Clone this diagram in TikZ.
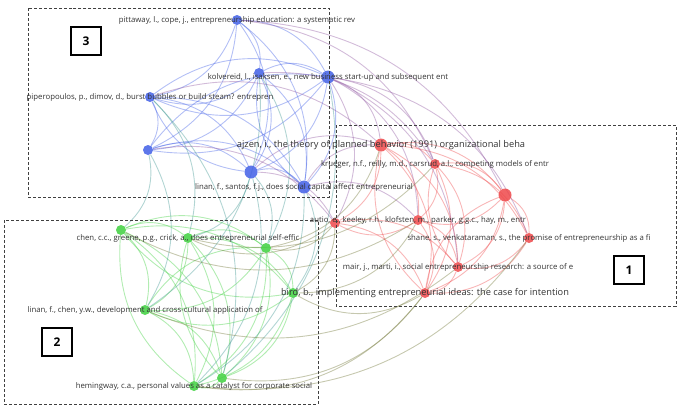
\documentclass[tikz,border=0pt]{standalone}
\usepackage{fontspec}
\setmainfont{Open Sans}
\usetikzlibrary{backgrounds}
\definecolor{azul}{RGB}{65,95,230}
\definecolor{rojo}{RGB}{238,72,74}
\definecolor{verde}{RGB}{62,208,62}
\tikzset{
    nodo/.style={circle,draw=none,inner sep=0pt,minimum size=10bp,fill opacity=0.85},
    nodog/.style={nodo,minimum size=13bp},
    etiq/.style={inner sep=0pt,text=black!80,font=\fontsize{7.8}{9}\selectfont},
    grande/.style={font=\fontsize{9.3}{11}\selectfont},
    enlace/.style={line width=0.9pt,draw opacity=0.4,bend left=30},
    caja/.style={draw=black!75,densely dashed,line width=0.6pt},
    marca/.style={draw,fill=white,line width=1.1pt,minimum width=30bp,minimum height=28bp,inner sep=0pt,font=\bfseries\fontsize{12}{14}\selectfont},
}
\begin{document}
\begin{tikzpicture}[x=1bp,y=-1bp]
    \useasboundingbox (0,0) rectangle (679,409);
    % grupo 3
    \node [nodo,fill=azul] (b1) at (237,20) {};
    \node [nodo,fill=azul] (b2) at (259,73) {};
    \node [nodog,fill=azul] (b3) at (328,77) {};
    \node [nodo,fill=azul] (b4) at (150,97) {};
    \node [nodo,fill=azul] (b5) at (148,150) {};
    \node [nodog,fill=azul] (b6) at (251,172) {};
    \node [nodog,fill=azul] (b7) at (304,187) {};
    % grupo 1
    \node [nodog,fill=rojo] (r1) at (381,145) {};
    \node [nodo,fill=rojo] (r2) at (435,164) {};
    \node [nodog,fill=rojo] (r3) at (505,195) {};
    \node [nodo,fill=rojo] (r4) at (418,220) {};
    \node [nodo,fill=rojo] (r5) at (335,223) {};
    \node [nodo,fill=rojo] (r6) at (529,238) {};
    \node [nodo,fill=rojo] (r7) at (458,267) {};
    \node [nodo,fill=rojo] (r8) at (425,293) {};
    % grupo 2
    \node [nodo,fill=verde] (g1) at (121,230) {};
    \node [nodo,fill=verde] (g2) at (188,238) {};
    \node [nodo,fill=verde] (g3) at (266,248) {};
    \node [nodo,fill=verde] (g4) at (293,293) {};
    \node [nodo,fill=verde] (g5) at (145,310) {};
    \node [nodo,fill=verde] (g6) at (222,378) {};
    \node [nodo,fill=verde] (g7) at (194,386) {};

    \begin{scope}[on background layer]
    \foreach \a/\b in {b1/b2,b1/b3,b1/b4,b1/b5,b1/b6,b1/b7,b2/b3,b2/b4,b2/b5,b2/b6,b2/b7,
        b3/b4,b3/b5,b3/b6,b3/b7,b4/b5,b4/b6,b4/b7,b5/b6,b5/b7,b6/b7,b4/b3,b5/b3,b6/b4,b7/b2}
        \draw [enlace,azul] (\a) to (\b);
    \foreach \a/\b in {r1/r2,r1/r3,r1/r4,r1/r5,r1/r6,r1/r7,r1/r8,r2/r3,r2/r4,r2/r6,r2/r7,r2/r8,
        r3/r4,r3/r6,r3/r7,r3/r8,r4/r5,r4/r7,r4/r8,r5/r7,r5/r8,r6/r7,r6/r8,r7/r8,r8/r3,r8/r1,r7/r2}
        \draw [enlace,rojo] (\a) to (\b);
    \foreach \a/\b in {g1/g2,g1/g3,g1/g4,g1/g5,g1/g6,g1/g7,g2/g3,g2/g4,g2/g5,g2/g6,g2/g7,
        g3/g4,g3/g5,g3/g6,g3/g7,g4/g5,g4/g6,g4/g7,g5/g6,g5/g7,g6/g7,g7/g1,g6/g2,g4/g1,g5/g3}
        \draw [enlace,verde] (\a) to (\b);
    \foreach \a/\b in {b3/r1,b3/r2,b3/r4,b3/r5,b3/r7,b7/r1,b7/r4,b6/r1,b2/r2,b1/r3,b3/r6,b6/r5,b5/r5,b1/r2,b4/r1}
        \draw [enlace,azul!55!rojo] (\a) to (\b);
    \foreach \a/\b in {b5/g1,b5/g5,b4/g2,b6/g2,b6/g3,b7/g4,b2/g5,b3/g6,b6/g7,b4/g6,b7/g7,b2/g3}
        \draw [enlace,azul!50!verde] (\a) to (\b);
    \foreach \a/\b in {r5/g2,r5/g3,r4/g1,r8/g7,r8/g6,r7/g5,r5/g4,r1/g3,r2/g2,r4/g4,r8/g4,r6/g7}
        \draw [enlace,rojo!45!verde!80!black] (\a) to (\b);
    \end{scope}

    % etiquetas
    \node [etiq] at (b1) {pittaway, l., cope, j., entrepreneurship education: a systematic rev};
    \node [etiq] at (b3) {kolvereid, l., isaksen, e., new business start-up and subsequent ent};
    \node [etiq] at (b4) {piperopoulos, p., dimov, d., burst bubbles or build steam? entrepren};
    \node [etiq] at (b7) {linan, f., santos, f.j., does social capital affect entrepreneurial};
    \node [etiq,grande] at (r1) {ajzen, i., the theory of planned behavior (1991) organizational beha};
    \node [etiq] at (r2) {krueger, n.f., reilly, m.d., carsrud, a.l., competing models of entr};
    \node [etiq] at (r4) {autio, e., keeley, r.h., klofsten, m., parker, g.g.c., hay, m., entr};
    \node [etiq] at (r6) {shane, s., venkataraman, s., the promise of entrepreneurship as a fi};
    \node [etiq] at (r7) {mair, j., marti, i., social entrepreneurship research: a source of e};
    \node [etiq,grande] at (r8) {bird, b., implementing entrepreneurial ideas: the case for intention};
    \node [etiq] at (g2) {chen, c.c., greene, p.g., crick, a., does entrepreneurial self-effic};
    \node [etiq] at (g5) {linan, f., chen, y.w., development and cross-cultural application of};
    \node [etiq] at (g7) {hemingway, c.a., personal values as a catalyst for corporate social};

    % grupos
    \draw [caja] (28,8) rectangle (329,197);
    \draw [caja] (336,125) rectangle (676,306);
    \draw [caja] (4,220) rectangle (318,404);
    \node [marca] (m3) at (86,41) {3};
    \node [marca] (m2) at (57,342) {2};
    \node [marca] (m1) at (629,270) {1};
\end{tikzpicture}
\end{document}
